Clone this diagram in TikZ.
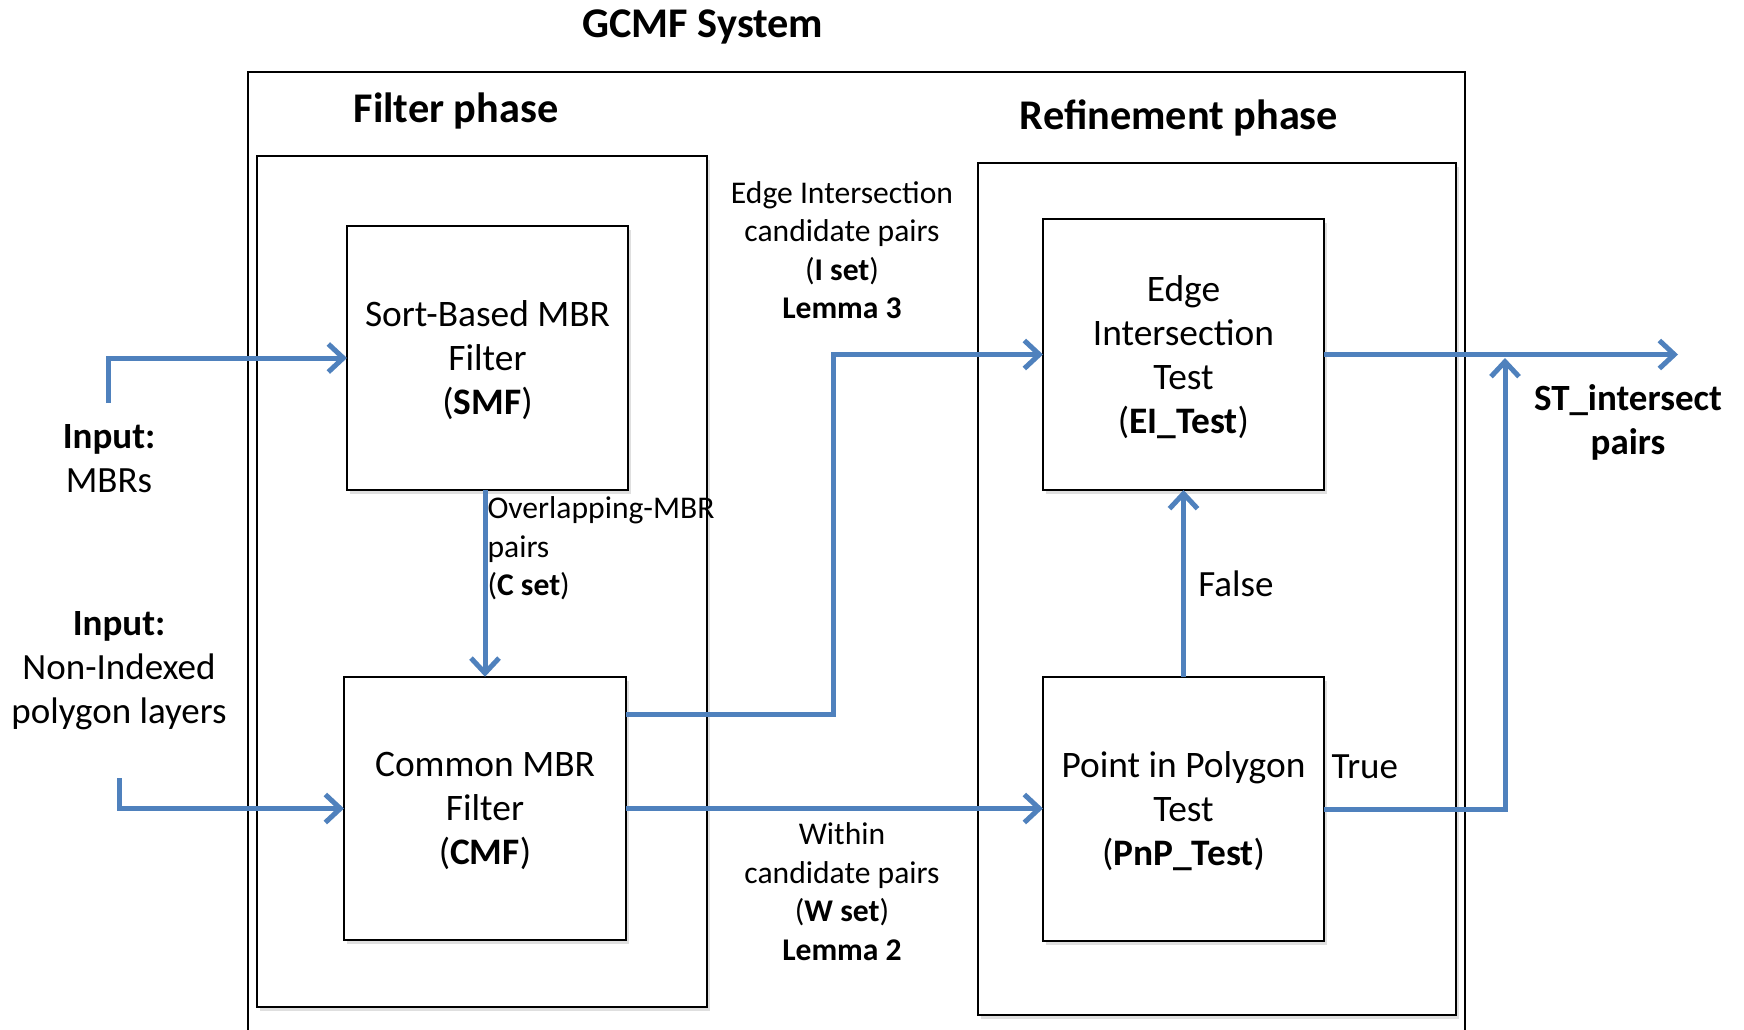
\documentclass[tikz,border=0pt]{standalone}
\usepackage{fontspec}
\setmainfont{Carlito}
\usetikzlibrary{arrows.meta,positioning,shadows}
\definecolor{flowblue}{HTML}{4F81BD}

\begin{document}
\begin{tikzpicture}[x=1pt, y=-1pt,
    >={Straight Barb[length=15pt,width=28pt]},
    % styles for boxes, arrows and texts
    boxshadow/.style={drop shadow={shadow xshift=3pt, shadow yshift=-4pt, opacity=0.25}},
    phasebox/.style={draw, line width=2pt, fill=white, inner sep=0pt, outer sep=0pt, boxshadow},
    procbox/.style={draw, line width=2.2pt, fill=white, inner sep=0pt, outer sep=0pt, boxshadow},
    boxtext/.style={align=center, font=\fontsize{37.4}{44}\selectfont},
    flow/.style={->, line width=5pt, draw=flowblue},
    heading/.style={font=\fontsize{42.3}{50}\selectfont\bfseries},
    note/.style={align=center, font=\fontsize{31.6}{38.5}\selectfont},
    sidetext/.style={align=center, font=\fontsize{37}{44}\selectfont}]

    \useasboundingbox (0,0) rectangle (1744,1029);

    % System frame (open at the bottom)
    \draw[line width=2pt] (248,1040) |- (1465,72) -- (1465,1040);
    \node[heading] (title) at (703,27) {GCMF System};

    % Phase frames
    \node[phasebox, minimum width=450pt, minimum height=851pt] (filterbox) at (482,581.5) {};
    \node[phasebox, minimum width=478pt, minimum height=852pt] (refinebox) at (1217,589) {};
    \node[heading] (filterhead) at (456,110.5) {Filter phase};
    \node[heading] (refinehead) at (1179,117.5) {Refinement phase};

    % Filter phase steps
    \node[procbox, minimum width=281pt, minimum height=264pt,
        label={[boxtext, yshift=-2pt]center:Sort-Based MBR\\Filter\\(\textbf{SMF})}] (smf) at (487.5,358) {};
    \node[procbox, minimum width=282pt, minimum height=263.5pt,
        label={[boxtext, yshift=-2pt]center:Common MBR\\Filter\\(\textbf{CMF})}] (cmf) at (485,808.5) {};

    % Refinement phase steps
    \node[procbox, minimum width=281pt, minimum height=271pt,
        label={[boxtext, yshift=-3pt]center:Edge\\Intersection\\Test\\(\textbf{EI\_Test})}] (ei) at (1183.5,354.5) {};
    \node[procbox, minimum width=281pt, minimum height=264.5pt,
        label={[boxtext, yshift=-2pt]center:Point in Polygon\\Test\\(\textbf{PnP\_Test})}] (pnp) at (1183.5,809) {};

    % Inputs and output
    \node[sidetext] (inmbr) at (109,459) {\textbf{Input:}\\MBRs};
    \node[sidetext] (inpoly) at (119,671) {\textbf{Input:}\\Non-Indexed\\polygon layers};
    \node[sidetext, font=\fontsize{37}{44}\selectfont\bfseries] (result) at (1628,422) {ST\_intersect\\pairs};

    \coordinate (mbrstart) at (108,403);
    \coordinate (polystart) at (119,778);
    \coordinate (ibend) at (833,714.5);
    \coordinate (outend) at (1678,354.5);
    \coordinate (truebend) at (1505,809);
    \coordinate (truetip) at (1505,358);

    % Connectors
    \draw[flow] (mbrstart) |- (smf.west);
    \draw[flow] (polystart) |- (cmf.west);
    \draw[flow] (cmf.north |- smf.south) -- (cmf.north);
    \draw[flow] (cmf.east |- ibend) -- (ibend) |- (ei.west);
    \draw[flow] (cmf.east) -- (cmf.east -| pnp.west);
    \draw[flow] (pnp.north) -- (ei.south) node[midway, right, xshift=9pt, sidetext] (falselbl) {False};
    \draw[flow] (ei.east) -- (outend);
    \draw[flow] (pnp.east) -- (truebend) -- (truetip);
    \node[sidetext, anchor=west] (truelbl) at (1328,767) {True};

    % Candidate sets
    \node[note, anchor=west, align=left] (cset) at (484,548.5) {Overlapping-MBR\\pairs\\(\textbf{C set})};
    \node[note] (iset) at (842,250) {Edge Intersection\\candidate pairs\\(\textbf{I set})\\\textbf{Lemma 3}};
    \node[note] (wset) at (842,891.5) {Within\\candidate pairs\\(\textbf{W set})\\\textbf{Lemma 2}};
\end{tikzpicture}
\end{document}
